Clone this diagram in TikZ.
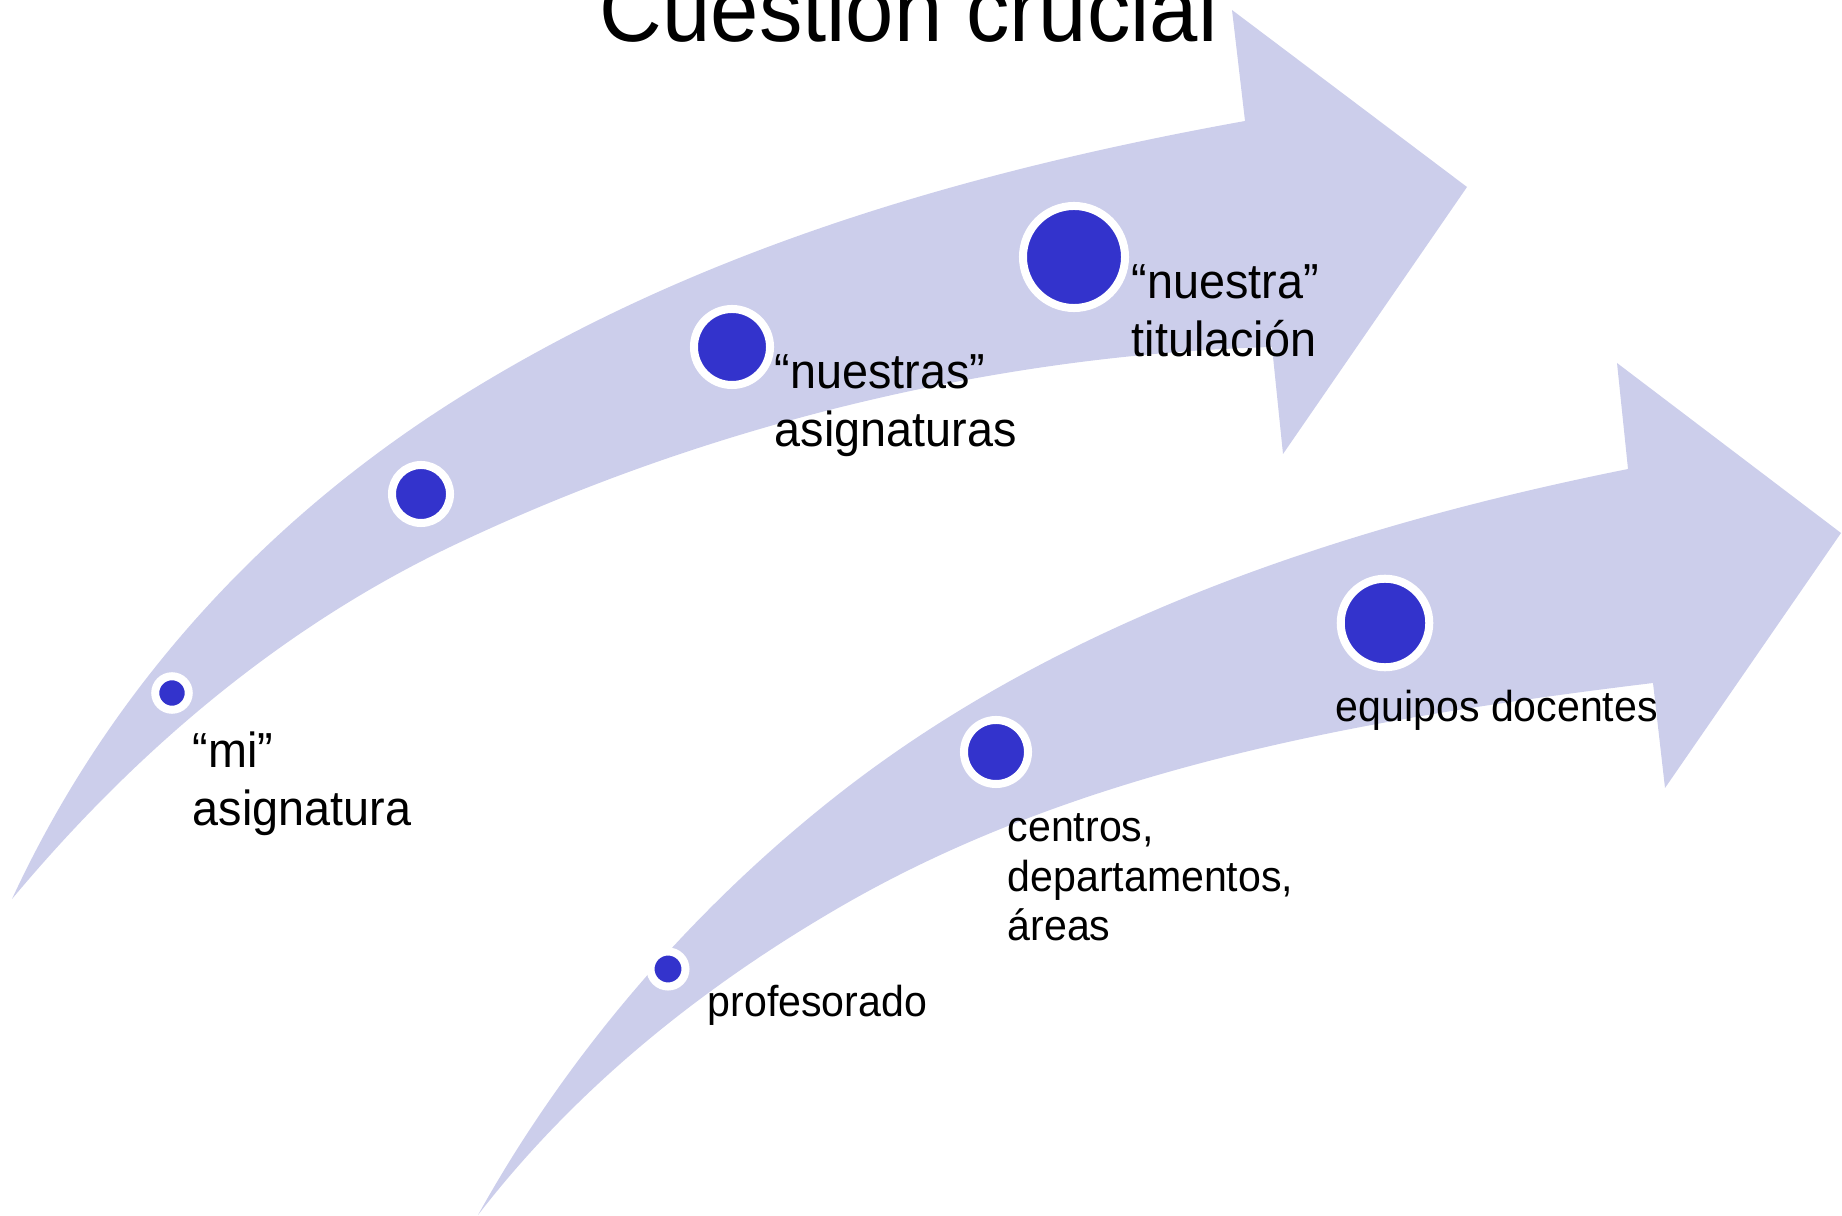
\documentclass[tikz,border=0pt]{standalone}
\usepackage{fontspec}
\setmainfont[FakeStretch=0.95]{Liberation Sans}
\usepackage{xcolor}
\usepackage{tikz}

\definecolor{bandlilac}{RGB}{204,206,235}
\definecolor{dotblue}{RGB}{51,51,204}

\begin{document}
\begin{tikzpicture}[x=0.01cm, y=-0.01cm,
  dot/.style={circle, fill=dotblue, draw=white, line width=0.08cm, inner sep=0pt},
  biglabel/.style={anchor=base west, inner sep=0pt, align=left, font=\fontsize{14}{16.5}\selectfont},
  smalllabel/.style={anchor=base west, inner sep=0pt, align=left, font=\fontsize{12.3}{14.2}\selectfont}]
\useasboundingbox (0,0) rectangle (1842,1216);

% upper arrow
\fill[bandlilac] (12,899) .. controls (113,681) and (277,506) .. (483,383)
  .. controls (714,244) and (979,169) .. (1245,121)
  -- (1232,10) -- (1467,187) -- (1283,454) -- (1272,347)
  .. controls (992,355) and (703,426) .. (450,547)
  .. controls (279,629) and (134,753) .. (12,899) -- cycle;

% lower arrow
\fill[bandlilac] (478,1215) .. controls (568,1053) and (694,907) .. (840,793)
  .. controls (1064,618) and (1349,525) .. (1628,469)
  -- (1617,363) -- (1841,533) -- (1665,788) -- (1653,683)
  .. controls (1374,717) and (1083,766) .. (840,907)
  .. controls (702,987) and (576,1088) .. (478,1215) -- cycle;

\node[anchor=base west, inner sep=0pt, font=\fontsize{26}{30}\selectfont] (title) at (599,42) {Cuestión crucial};

% dots
\node[dot, minimum size=0.335cm] (mi) at (172,693) {};
\node[dot, minimum size=0.58cm] (paso) at (421,494) {};
\node[dot, minimum size=0.76cm] (nuestras) at (732,347) {};
\node[dot, minimum size=1.02cm] (titulacion) at (1074,257) {};
\node[dot, minimum size=0.35cm] (prof) at (668,969) {};
\node[dot, minimum size=0.64cm] (centros) at (996,752) {};
\node[dot, minimum size=0.885cm] (equipos) at (1385,623) {};

% labels (base = last line)
\node[biglabel] (mi-txt) at (192,826) {“mi”\\asignatura};
\node[biglabel] (nuestras-txt) at (774,447) {“nuestras”\\asignaturas};
\node[biglabel] (titulacion-txt) at (1131,357) {“nuestra”\\titulación};
\node[smalllabel] (prof-txt) at (707,1016) {profesorado};
\node[smalllabel] (centros-txt) at (1007,941) {centros,\\departamentos,\\áreas};
\node[smalllabel] (equipos-txt) at (1335,722) {equipos docentes};
\end{tikzpicture}
\end{document}
